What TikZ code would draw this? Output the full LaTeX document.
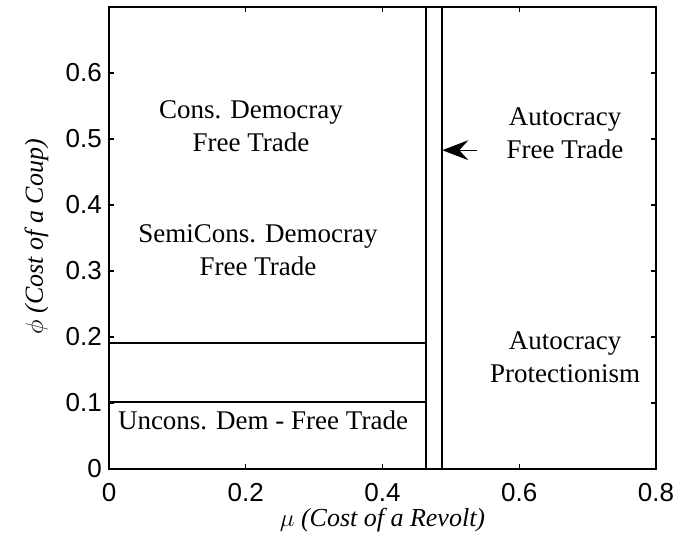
\documentclass[tikz,border=0pt]{standalone}
\usepackage{fontspec}
\setmainfont{Liberation Serif}
\newfontfamily\ticksfont{Liberation Sans}
\usetikzlibrary{arrows.meta,positioning}
\tikzset
{
    region/.style    = {font=\fontsize{27}{33}\selectfont, align=center, inner sep=0pt},
    boundary/.style  = {line width=1.7pt},
    axisbox/.style   = {line width=1.2pt},
    ticklabel/.style = {font=\ticksfont\fontsize{26}{26}\selectfont, inner sep=0pt},
    axislabel/.style = {font=\fontsize{26}{26}\selectfont\itshape, inner sep=0pt},
    pointer/.style   = {-{Stealth[length=26pt,width=20pt,inset=9pt]}, line width=1pt}
}
\begin{document}
\begin{tikzpicture}[x=683.75pt, y=660pt]
	 \newcommand\MUONE{0.464}
	 \newcommand\MUTWO{0.4875}
	 \newcommand\PHIHI{0.191}
	 \newcommand\PHILO{0.102}
	 \useasboundingbox (-109pt,-79pt) rectangle (583pt,469pt);

   % axes box and ticks
   \coordinate (ll) at (0,0);
   \coordinate (ur) at (0.8,0.7);
   \draw[axisbox] (ll) rectangle (ur);
   \foreach \x [count=\i] in {0,0.2,0.4,0.6,0.8} {
     \draw[axisbox] (\x,0) -- ++(0,5pt);
     \draw[axisbox] (\x,0.7) -- ++(0,-5pt);
     \node (xt\i) [ticklabel, anchor=north] at ([yshift=-14pt]\x,0) {\x};
   }
   \foreach \y [count=\i] in {0,0.1,0.2,0.3,0.4,0.5,0.6} {
     \draw[axisbox] (0,\y) -- ++(5pt,0);
     \draw[axisbox] (0.8,\y) -- ++(-5pt,0);
     \node (yt\i) [ticklabel, anchor=east] at ([xshift=-7pt]0,\y) {\y};
   }

   % region boundaries
   \coordinate (v1b) at (\MUONE,0);
   \coordinate (v1t) at (\MUONE,0.7);
   \coordinate (v2b) at (\MUTWO,0);
   \coordinate (v2t) at (\MUTWO,0.7);
   \coordinate (h1l) at (0,\PHIHI);
   \coordinate (h1r) at (\MUONE,\PHIHI);
   \coordinate (h2l) at (0,\PHILO);
   \coordinate (h2r) at (\MUONE,\PHILO);
   \draw[boundary] (v1b) -- (v1t);
   \draw[boundary] (v2b) -- (v2t);
   \draw[boundary] (h1l) -- (h1r);
   \draw[boundary] (h2l) -- (h2r);

   % region labels
   \node (cdft)   [region] at (0.2077, 0.520) {Cons. Democray\\Free Trade};
   \node (scdft)  [region] at (0.218, 0.331)  {SemiCons. Democray\\Free Trade};
   \node (ucdft)  [region] at (0.2252, 0.073) {Uncons. Dem - Free Trade};
   \node (aft)    [region] at (0.667, 0.508)  {Autocracy\\Free Trade};
   \node (aprot)  [region] at (0.667, 0.169)  {Autocracy\\Protectionism};

   \coordinate (arrtail) at (0.538, 0.483);
   \coordinate (arrtip)  at (\MUTWO, 0.483);
   \draw[pointer] (arrtail) -- (arrtip);

   % axis labels
   \node (xlab) [axislabel] at (0.4, -0.077) {$\mu$ (Cost of a Revolt)};
   \node (ylab) [axislabel, rotate=90] at (-0.106, 0.352) {$\phi$ (Cost of a Coup)};
\end{tikzpicture}
\end{document}
